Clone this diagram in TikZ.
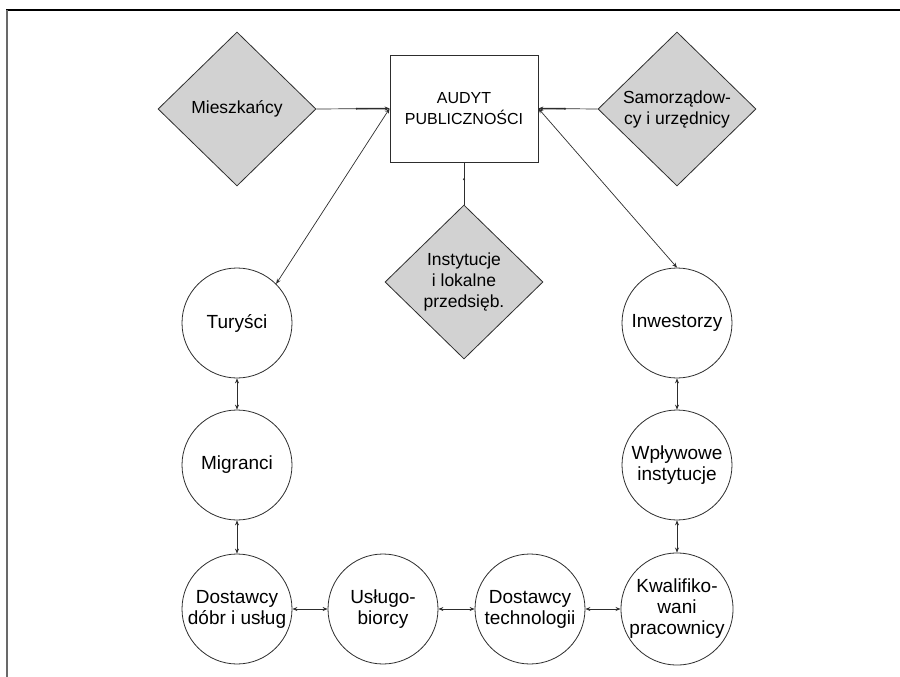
\documentclass[tikz,border=0pt]{standalone}
\usepackage{fontspec}
\setmainfont{Liberation Sans}
\usetikzlibrary{shapes.geometric,arrows.meta,calc}
\definecolor{linegray}{RGB}{45,45,45}
\definecolor{diafill}{RGB}{210,210,210}
\definecolor{framegray}{RGB}{105,105,105}
\tikzset{
  role/.style={diamond, shape aspect=1, draw=linegray, fill=diafill, line width=0.8pt,
    minimum width=158pt, minimum height=154pt, inner sep=0pt, align=center,
    font=\fontsize{17.5}{21}\selectfont},
  group/.style={circle, draw=linegray, fill=white, line width=0.8pt,
    minimum size=110pt, inner sep=0pt, align=center,
    font=\fontsize{19}{21}\selectfont},
  audit/.style={rectangle, draw=linegray, fill=white, line width=0.8pt,
    minimum width=148pt, minimum height=107pt, align=center,
    font=\fontsize{16}{21}\selectfont},
  link/.style={draw=linegray, line width=0.7pt, {Stealth[length=5pt,width=4pt]}-{Stealth[length=5pt,width=4pt]}},
  feed/.style={draw=linegray, line width=0.7pt, -{Stealth[length=5pt,width=4pt]}},
  feedbold/.style={draw=linegray, line width=1.5pt, shorten >=3pt},
}
\begin{document}
\begin{tikzpicture}[x=1pt,y=1pt]
\useasboundingbox (0,0) rectangle (900,-677);

% frame
\draw[black, line width=1.5pt] (6,-10) -- (900,-10);
\draw[framegray, line width=2pt] (7,-10) -- (7,-677);

% central box and stakeholder diamonds
\node[audit] (aud) at (464,-108.5) {AUDYT\\PUBLICZNOŚCI};
\node[role] (mie) at (237,-109) {Mieszkańcy};
\node[role] (sam) at (677,-109) {Samorządow-\\cy i urzędnicy};
\node[role] (ins) at (464,-282) {Instytucje\\i lokalne\\przedsięb.};

% external groups
\node[group] (tur) at (237,-323) {Turyści};
\node[group] (mig) at (237,-465) {Migranci};
\node[group] (dob) at (237,-609) {Dostawcy\\dóbr i usług};
\node[group] (usl) at (383,-609) {Usługo-\\biorcy};
\node[group] (tec) at (530,-609) {Dostawcy\\technologii};
\node[group] (kwa) at (677,-609) {Kwalifiko-\\wani\\pracownicy};
\node[group] (wpl) at (677,-465) {Wpływowe\\instytucje};
\node[group] (inw) at (677,-323) {Inwestorzy};

% inputs into the audit
\draw[feed] (mie.east) -- (aud.west);
\draw[feedbold] ($(mie.east)!0.55!(aud.west)$) -- (aud.west);
\fill[linegray] ($(mie.east)!0.55!(aud.west)$) circle (1.1pt);
\draw[feed] (sam.west) -- (aud.east);
\draw[feedbold] ($(sam.west)!0.55!(aud.east)$) -- (aud.east);
\fill[linegray] ($(sam.west)!0.55!(aud.east)$) circle (1.1pt);
\draw[draw=linegray, line width=0.8pt] (aud.south) -- (ins.north);
\fill[linegray] ($(aud.south)!0.4!(ins.north)$) circle (1.1pt);

% links to the groups
\draw[link] (aud.west) -- (tur.north east);
\draw[link] (aud.east) -- (inw.north);
\draw[link] (tur.south) -- (mig.north);
\draw[link] (mig.south) -- (dob.north);
\draw[link] (dob.east) -- (usl.west);
\draw[link] (usl.east) -- (tec.west);
\draw[link] (tec.east) -- (kwa.west);
\draw[link] (kwa.north) -- (wpl.south);
\draw[link] (wpl.north) -- (inw.south);
\end{tikzpicture}
\end{document}
